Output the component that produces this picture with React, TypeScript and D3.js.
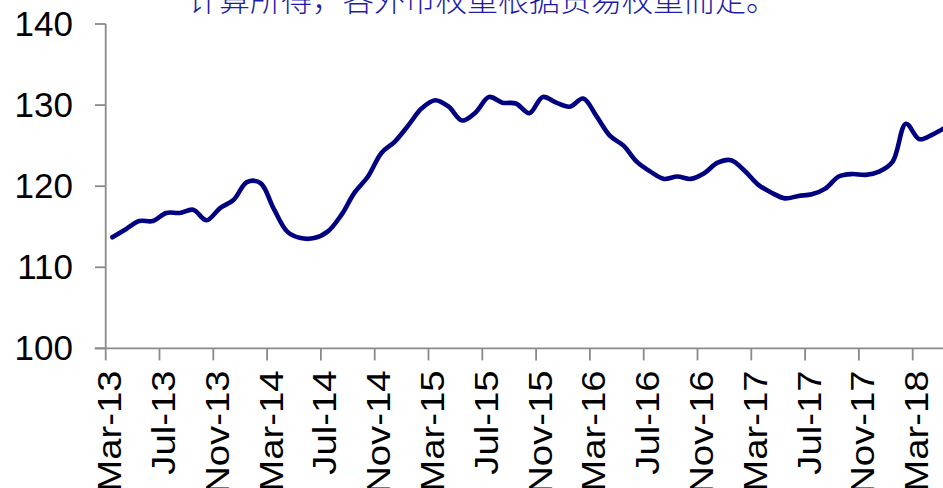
import React from "react";
import * as d3 from "d3";

// Monthly index values, starting Mar-13
const startMonth = "Mar-13";
const indexValues: number[] = [
  113.7, 114.7, 115.7, 115.7, 116.7, 116.7, 117.1, 115.8, 117.3, 118.3,
  120.5, 120.4, 117.2, 114.4, 113.6, 113.6, 114.4, 116.4, 119.2, 121.2,
  124.1, 125.5, 127.5, 129.6, 130.6, 129.8, 128.1, 129.1, 131.0, 130.3,
  130.2, 129.0, 131.0, 130.3, 129.8, 130.8, 128.6, 126.2, 125.0, 123.0,
  121.8, 120.9, 121.2, 120.9, 121.6, 122.9, 123.2, 121.9, 120.2, 119.2,
  118.5, 118.8, 119.0, 119.7, 121.2, 121.5, 121.4, 121.8, 123.0, 127.7,
  125.8, 126.4, 127.3,
];

const xTickLabels: string[] = [
  "Mar-13", "Jul-13", "Nov-13", "Mar-14", "Jul-14", "Nov-14", "Mar-15", "Jul-15",
  "Nov-15", "Mar-16", "Jul-16", "Nov-16", "Mar-17", "Jul-17", "Nov-17", "Mar-18",
];
const xTickStep = 4; // months between labelled ticks
const yTicks: number[] = [100, 110, 120, 130, 140];

const noteText = "计算所得，各外币权重根据贸易权重而定。";

const W = 943;
const H = 488;

export default function App() {
  const x = d3.scaleLinear().domain([0, 1]).range([105.7, 105.7 + 13.45]);
  const y = d3.scaleLinear().domain([100, 140]).range([348.4, 24]);

  const pts: [number, number][] = indexValues.map((v, i) => [x(i + 0.5), y(v)]);
  const line = d3
    .line<[number, number]>()
    .x((d) => d[0])
    .y((d) => d[1])
    .curve(d3.curveCatmullRom.alpha(0.5));

  const axisColor = "#8a8a8a";
  const x0 = x(0);
  const yBase = y(100);

  return (
    <svg
      width={W}
      height={H}
      viewBox={`0 0 ${W} ${H}`}
      style={{ position: "absolute", left: 0, top: 0, display: "block", background: "#fff" }}
      aria-label={`Index since ${startMonth}`}
    >
      <rect x={0} y={0} width={W} height={H} fill="#fff" />

      {/* note text, partly cut off at the top */}
      <text
        x={188}
        y={11}
        fontFamily="'Noto Sans CJK SC', sans-serif"
        fontSize={31}
        fontWeight={300}
        fill="#1c1ca6"
      >
        {noteText}
      </text>

      {/* y axis */}
      <line x1={x0} x2={x0} y1={y(140)} y2={yBase} stroke={axisColor} strokeWidth={1.8} />
      {yTicks.map((t) => (
        <g key={t}>
          <line x1={95} x2={x0} y1={y(t)} y2={y(t)} stroke={axisColor} strokeWidth={1.8} />
          <text
            x={73}
            y={y(t) + 12}
            textAnchor="end"
            fontFamily="'Liberation Sans', Arial, sans-serif"
            fontSize={35}
            fill="#000"
          >
            {t}
          </text>
        </g>
      ))}

      {/* x axis */}
      <line x1={x0 - 11} x2={W} y1={yBase} y2={yBase} stroke={axisColor} strokeWidth={1.8} />
      {xTickLabels.map((lab, k) => {
        const tx = x(k * xTickStep);
        return (
          <g key={lab}>
            <line x1={tx} x2={tx} y1={yBase} y2={yBase + 12} stroke={axisColor} strokeWidth={1.8} />
            <text
              transform={`translate(${tx + 15.5},370.5) rotate(-90) scale(1.16,1)`}
              textAnchor="end"
              fontFamily="'Liberation Sans', Arial, sans-serif"
              fontSize={33}
              fill="#000"
            >
              {lab}
            </text>
          </g>
        );
      })}

      {/* series */}
      <path
        d={line(pts) ?? ""}
        fill="none"
        stroke="#000080"
        strokeWidth={4.6}
        strokeLinejoin="round"
        strokeLinecap="round"
      />
    </svg>
  );
}
